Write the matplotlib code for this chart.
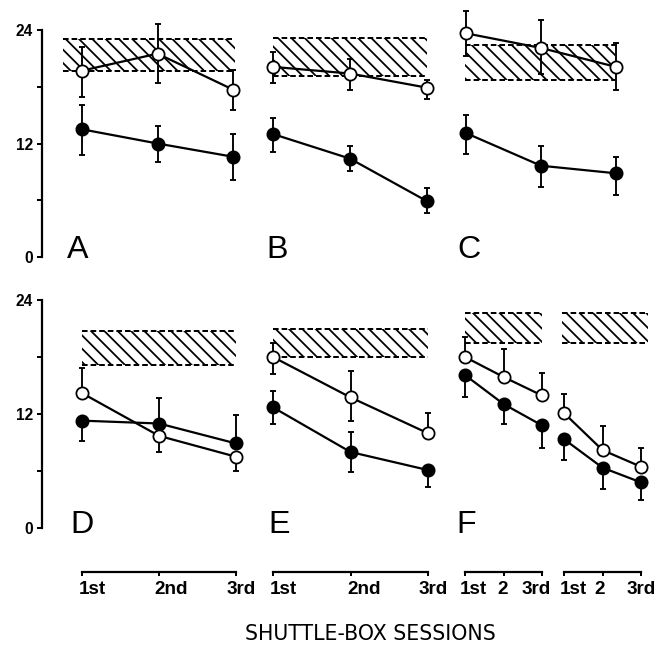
import matplotlib
matplotlib.use("Agg")
import matplotlib.pyplot as plt
from matplotlib.transforms import ScaledTranslation

plt.rcParams["font.family"] = ["Liberation Sans", "DejaVu Sans"]
plt.rcParams["hatch.linewidth"] = 1.6

W, H, DPI = 658, 651, 80
PT = 72 / DPI  # points per pixel

sessions = [1, 2, 3]
labels_de = ["1st", "2nd", "3rd"]
labels_f = ["1st", "2", "3rd"]

# open circles: mean, lower error, upper error; same for filled circles
open_A = [19.7, 21.5, 17.7]
open_A_lo = [2.8, 3.1, 2.2]
open_A_hi = [2.5, 3.1, 2.1]
closed_A = [13.5, 12.0, 10.6]
closed_A_lo = [2.7, 2.0, 2.5]
closed_A_hi = [2.6, 1.9, 2.4]
band_A = [19.7, 23.0]
band_A_x = [0.75, 3.03]

open_B = [20.1, 19.4, 17.9]
open_B_lo = [1.7, 1.7, 1.2]
open_B_hi = [1.6, 1.5, 0.8]
closed_B = [13.0, 10.4, 5.9]
closed_B_lo = [1.9, 1.3, 1.3]
closed_B_hi = [1.7, 1.3, 1.4]
band_B = [19.1, 23.2]
band_B_x = [1.0, 3.0]

open_C = [23.65, 22.1, 20.1]
open_C_lo = [2.45, 2.7, 2.4]
open_C_hi = [2.35, 2.95, 2.5]
closed_C = [13.1, 9.65, 8.85]
closed_C_lo = [2.2, 2.25, 2.25]
closed_C_hi = [1.9, 2.05, 1.75]
band_C = [18.7, 22.4]
band_C_x = [0.99, 2.99]

open_D = [14.2, 9.7, 7.5]
open_D_lo = [0, 1.7, 1.5]
open_D_hi = [2.6, 0, 0]
closed_D = [11.3, 11.0, 8.9]
closed_D_lo = [2.1, 0, 0]
closed_D_hi = [0, 2.65, 3.0]
band_D = [17.2, 20.7]
band_D_x = [1.0, 3.0]

open_E = [18.0, 13.75, 9.97]
open_E_lo = [1.8, 2.45, 0]
open_E_hi = [1.5, 2.75, 2.1]
closed_E = [12.7, 8.0, 6.1]
closed_E_lo = [1.8, 2.1, 1.8]
closed_E_hi = [1.75, 2.1, 0]
band_E = [18.0, 20.9]
band_E_x = [1.0, 3.0]

open_F1 = [18.0, 15.9, 13.95]
open_F1_lo = [0, 0, 0]
open_F1_hi = [2.1, 2.9, 2.4]
closed_F1 = [16.1, 13.05, 10.8]
closed_F1_lo = [2.3, 2.15, 2.35]
closed_F1_hi = [0, 0, 0]
band_F1 = [19.5, 22.6]
band_F1_x = [1.0, 3.0]

open_F2 = [12.1, 8.2, 6.45]
open_F2_lo = [0, 0, 0]
open_F2_hi = [2.0, 2.5, 1.95]
closed_F2 = [9.35, 6.35, 4.8]
closed_F2_lo = [2.15, 2.25, 1.8]
closed_F2_hi = [0, 0, 0]
band_F2 = [19.5, 22.6]
band_F2_x = [0.95, 3.18]

fig = plt.figure(figsize=(W / DPI, H / DPI), dpi=DPI)


def make_ax(p1, p3, lpx, rpx, y0, y24):
    # p1/p3: pixel x of 1st and 3rd session, y0/y24: pixel y of 0 and 24
    u = (p3 - p1) / 2
    ax = fig.add_axes([lpx / W, 1 - y0 / H, (rpx - lpx) / W, (y0 - y24) / H])
    ax.set_xlim(1 - (p1 - lpx) / u, 3 + (rpx - p3) / u)
    ax.set_ylim(0, 24)
    ax.patch.set_visible(False)
    for s in ax.spines.values():
        s.set_visible(False)
    ax.set_xticks([])
    ax.set_yticks([])
    return ax


def draw(ax, o, o_lo, o_hi, c, c_lo, c_hi, band, band_x):
    ax.fill_between(band_x, band[0], band[1], facecolor="none", edgecolor="black",
                    hatch="\\\\", linewidth=0, clip_on=False)
    ax.hlines(band, band_x[0], band_x[1], colors="black", linestyles=(0, (2.8, 1.5)),
              linewidth=1.8, clip_on=False)
    for mean, lo, hi, fill in ((c, c_lo, c_hi, "black"), (o, o_lo, o_hi, "white")):
        ax.errorbar(sessions, mean, yerr=[lo, hi], fmt="none", ecolor="black",
                    elinewidth=1.7, capsize=2.8, capthick=1.7, clip_on=False)
        ax.plot(sessions, mean, "-", color="black", lw=2.0, clip_on=False, zorder=3)
        ax.plot(sessions, mean, "o", ms=11, mfc=fill, mec="black", mew=1.6,
                clip_on=False, zorder=4)


def y_axis(ax):
    sp = ax.spines["left"]
    sp.set_visible(True)
    sp.set_bounds(0, 24)
    sp.set_linewidth(2.0)
    ax.set_yticks([0, 12, 24])
    ax.set_yticks([6, 18], minor=True)
    ax.tick_params(axis="y", which="both", direction="out", length=5 * PT, width=1.8,
                   labelsize=14, pad=4 * PT)
    for lab in ax.get_yticklabels():
        lab.set_fontweight("bold")


def x_axis(ax, names, shifts):
    sp = ax.spines["bottom"]
    sp.set_visible(True)
    sp.set_position(("outward", 44 * PT))
    sp.set_bounds(1, 3)
    sp.set_linewidth(2.0)
    ax.set_xticks(sessions)
    ax.set_xticklabels(names, fontweight="bold")
    ax.tick_params(axis="x", direction="out", length=3.5 * PT, width=1.8,
                   labelsize=17, pad=5 * PT)
    for lab, dx in zip(ax.get_xticklabels(), shifts):
        lab.set_transform(lab.get_transform() + ScaledTranslation(dx / DPI, 0, fig.dpi_scale_trans))


TOP = (257, 30)
BOT = (528, 300)

axA = make_ax(82, 233, 42, 250, *TOP)
axB = make_ax(273, 427, 255, 440, *TOP)
axC = make_ax(466, 616, 445, 645, *TOP)
axD = make_ax(82, 236, 42, 250, *BOT)
axE = make_ax(273, 428, 255, 440, *BOT)
axF1 = make_ax(465, 542, 445, 550, *BOT)
axF2 = make_ax(564, 641, 552, 655, *BOT)

draw(axA, open_A, open_A_lo, open_A_hi, closed_A, closed_A_lo, closed_A_hi, band_A, band_A_x)
draw(axB, open_B, open_B_lo, open_B_hi, closed_B, closed_B_lo, closed_B_hi, band_B, band_B_x)
draw(axC, open_C, open_C_lo, open_C_hi, closed_C, closed_C_lo, closed_C_hi, band_C, band_C_x)
draw(axD, open_D, open_D_lo, open_D_hi, closed_D, closed_D_lo, closed_D_hi, band_D, band_D_x)
draw(axE, open_E, open_E_lo, open_E_hi, closed_E, closed_E_lo, closed_E_hi, band_E, band_E_x)
draw(axF1, open_F1, open_F1_lo, open_F1_hi, closed_F1, closed_F1_lo, closed_F1_hi, band_F1, band_F1_x)
draw(axF2, open_F2, open_F2_lo, open_F2_hi, closed_F2, closed_F2_lo, closed_F2_hi, band_F2, band_F2_x)

y_axis(axA)
y_axis(axD)
x_axis(axD, labels_de, [10, 12, 5])
x_axis(axE, labels_de, [10, 14, 5])
x_axis(axF1, labels_f, [8, -1, -6])
x_axis(axF2, labels_f, [9, -3, 0])

# panel letters (left x, baseline y in pixels)
for letter, xp, yp in (("A", 67, 258), ("B", 266, 258), ("C", 457, 258),
                       ("D", 70, 533), ("E", 268, 533), ("F", 456, 533)):
    fig.text(xp / W, 1 - yp / H, letter, fontsize=29, va="baseline", ha="left")

fig.text(370 / W, 1 - 640 / H, "SHUTTLE-BOX SESSIONS", ha="center", va="baseline",
         family="DejaVu Sans", fontsize=18.5)

fig.savefig("out.png", dpi=DPI)
